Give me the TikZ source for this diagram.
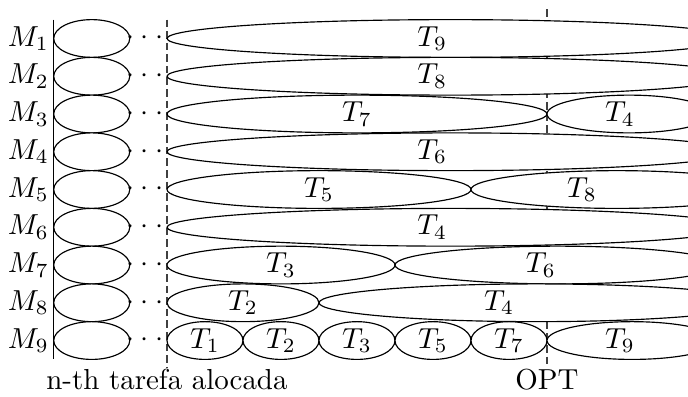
\documentclass[tikz,border=0pt]{standalone}
\usepackage{tikz}
\usetikzlibrary{positioning}

\begin{document}
\begin{tikzpicture}[
        x=0.9234cm, y=0.4587cm,
        task/.style={draw, fill=white},
        bound/.style={dash pattern=on 2.6pt off 1.4pt, color=black!75},
        tlabel/.style={inner sep=0pt, font=\fontsize{10.3pt}{12pt}\selectfont},
        mlabel/.style={anchor=east, inner sep=1.5pt}
        ]
        \useasboundingbox (-2.197,0.02) rectangle (6.855,-10.47);
        \clip (-2.197,0.02) rectangle (6.855,-10.47);

        % limites
        \coordinate (ntop) at (0,-0.5);
        \coordinate (nbot) at (0,-9.73);
        \coordinate (opttop) at (5,-0.23);
        \coordinate (optbot) at (5,-9.73);
        \coordinate (axtop) at (-1.49,-0.5);
        \coordinate (axbot) at (-1.49,-9.5);
        \draw[bound] (ntop) -- (nbot);
        \draw[bound] (opttop) -- (optbot);

        % maquinas
        \foreach \i in {1,...,9} {
            \draw[task] (-0.99,-\i) ellipse [x radius=0.5, y radius=0.5];
            \node[mlabel] (m\i) at (axtop |- 0,-\i) {$M_{\i}$};
            \node[inner sep=0pt] (dots\i) at (-0.29,-\i) {${\cdot}\hspace{2.2pt}{\cdot}\hspace{2.2pt}{\cdot}$};
        }
        \draw (axtop) -- (axbot);

        % tarefas: maquina/centro/raio/tarefa/rotulo
        \foreach \r/\c/\a/\k/\lx in {
            1/3.73/3.73/9/3.49, 2/3.73/3.73/8/3.49,
            3/2.5/2.5/7/2.5, 3/6.08/1.08/4/5.96,
            4/3.73/3.73/6/3.49,
            5/2/2/5/2, 5/5.92/1.92/8/5.46,
            6/3.73/3.73/4/3.49,
            7/1.5/1.5/3/1.5, 7/5.14/2.14/6/4.92,
            8/1/1/2/1, 8/4.86/2.86/4/4.37,
            9/0.5/0.5/1/0.5, 9/1.5/0.5/2/1.5, 9/2.5/0.5/3/2.5,
            9/3.5/0.5/5/3.5, 9/4.5/0.5/7/4.5, 9/6.12/1.12/9/5.96} {
            \draw[task] (\c,-\r) ellipse [x radius=\a, y radius=0.5];
            \node[tlabel] (task-\r-\k) at (\lx,-\r) {$T_{\k}$};
        }

        \node[anchor=base] (nth) at (0,-10.285) {n-th tarefa alocada};
        \node[anchor=base] (opt) at (5,-10.285) {OPT};
    \end{tikzpicture}
\end{document}
